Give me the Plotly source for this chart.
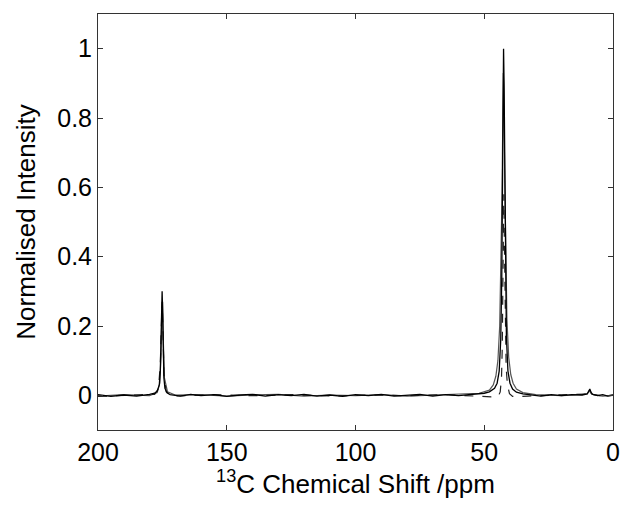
import plotly.graph_objects as go

# ---- data ----
shift_a = [200, 195, 190, 185, 180, 178, 177, 176.2, 175.8, 175.5, 175.3, 175.1, 174.9, 174.7, 174.4, 174,
           173.2, 172, 168, 164, 160, 155, 150, 145, 140, 135, 130, 125, 120, 115, 110, 105, 100, 95, 90,
           85, 80, 75, 70, 65, 60, 55, 50, 48, 46, 45, 44.2, 43.6, 43.2, 42.9, 42.7, 42.5, 42.3, 42.1,
           41.8, 41.4, 40.8, 40, 39, 37.5, 35, 32, 28, 24, 20, 16, 12, 10, 9.4, 9, 8.6, 8, 6, 4, 2, 0]
int_a = [0.002, -0.003, 0.001, -0.002, 0.003, 0.006, 0.012, 0.03, 0.07, 0.16, 0.26, 0.30, 0.24, 0.13, 0.05, 0.02,
         0.007, 0.002, -0.002, 0.003, -0.001, 0.002, -0.003, 0.001, 0.003, -0.002, 0.002, -0.001, 0.003, -0.002, 0.001, -0.003, 0.002, -0.001, 0.003,
         -0.002, 0.001, 0.003, -0.002, 0.002, -0.001, 0.003, 0.006, 0.01, 0.02, 0.035, 0.07, 0.16, 0.34, 0.62, 0.86, 1.0, 0.9, 0.68,
         0.38, 0.17, 0.07, 0.035, 0.018, 0.009, 0.004, 0.001, -0.002, 0.002, -0.001, 0.002, 0.001, 0.004, 0.012, 0.018, 0.01, 0.003, -0.001, 0.002, -0.002, 0.001]

shift_b = [200, 190, 180, 177, 176, 175.5, 175.2, 174.9, 174.6, 174.2, 173, 170, 160, 150, 140, 130, 120, 110, 100,
           90, 80, 70, 60, 52, 48, 46.5, 45.5, 44.7, 44, 43.5, 43.1, 42.8, 42.6, 42.4, 42.1, 41.7, 41.2, 40.5,
           39.7, 38.8, 37.5, 35, 30, 20, 12, 10, 9.2, 8.6, 7.5, 4, 0]
int_b = [-0.002, 0.002, -0.001, 0.008, 0.035, 0.12, 0.24, 0.27, 0.15, 0.05, 0.01, 0.001, 0.002, -0.002, 0.001, 0.003, -0.002, 0.001, -0.001,
         0.002, -0.002, 0.001, 0.002, 0.006, 0.015, 0.03, 0.055, 0.1, 0.2, 0.36, 0.58, 0.8, 0.93, 0.88, 0.66, 0.42, 0.22, 0.11,
         0.06, 0.035, 0.018, 0.008, 0.002, -0.001, 0.002, 0.005, 0.014, 0.006, 0.001, -0.002, 0.0]

shift_c = [200, 185, 178, 176.5, 175.8, 175.4, 175.1, 174.8, 174.4, 173.5, 170, 155, 140, 125, 110, 95, 80, 65, 50,
           46, 44.5, 43.8, 43.3, 43, 42.8, 42.6, 42.4, 42.2, 41.9, 41.5, 41, 40.2, 39, 37, 33, 25, 15, 10, 9.1, 8.5, 5, 0]
int_c = [-0.003, 0.001, 0.003, 0.02, 0.09, 0.2, 0.27, 0.2, 0.06, 0.01, -0.002, 0.002, -0.001, 0.002, -0.002, 0.001, -0.001, 0.002, -0.003,
         -0.005, -0.002, 0.01, 0.05, 0.14, 0.3, 0.5, 0.58, 0.45, 0.22, 0.08, 0.03, 0.005, -0.003, -0.004, -0.002, 0.0, 0.002, 0.004, 0.012, 0.004, -0.001, 0.0]

x_ticks = [200, 150, 100, 50, 0]
y_ticks = [0, 0.2, 0.4, 0.6, 0.8, 1]
y_labels = ["0", "0.2", "0.4", "0.6", "0.8", "1"]

fig = go.Figure()
fig.add_trace(go.Scatter(x=shift_b, y=int_b, mode="lines", line=dict(color="#555555", width=1.2), showlegend=False))
fig.add_trace(go.Scatter(x=shift_c, y=int_c, mode="lines", line=dict(color="#222222", width=1.2, dash="dash"), showlegend=False))
fig.add_trace(go.Scatter(x=shift_a, y=int_a, mode="lines", line=dict(color="black", width=1.3), showlegend=False))

font = dict(family="Liberation Sans, Arial, Helvetica, sans-serif", color="black")
axis_common = dict(showgrid=False, zeroline=False, showline=True, linecolor="#333333", linewidth=1,
                   mirror="ticks", ticks="inside", ticklen=5, tickcolor="#333333", tickwidth=1,
                   automargin=False, tickfont=dict(size=25, **font))

fig.update_layout(
    width=621, height=506,
    margin=dict(l=98, r=8, t=14, b=76),
    paper_bgcolor="white", plot_bgcolor="white",
    font=font,
    xaxis=dict(range=[200, 0], tickvals=x_ticks, ticktext=[str(v) for v in x_ticks],
               title=dict(text="<sup>13</sup>C Chemical Shift /ppm", font=dict(size=26, **font), standoff=2),
               **axis_common),
    yaxis=dict(range=[-0.1, 1.1], tickvals=y_ticks, ticktext=y_labels,
               title=dict(text="Normalised Intensity", font=dict(size=26, **font), standoff=14),
               **axis_common),
)

fig.write_html("out.html")
